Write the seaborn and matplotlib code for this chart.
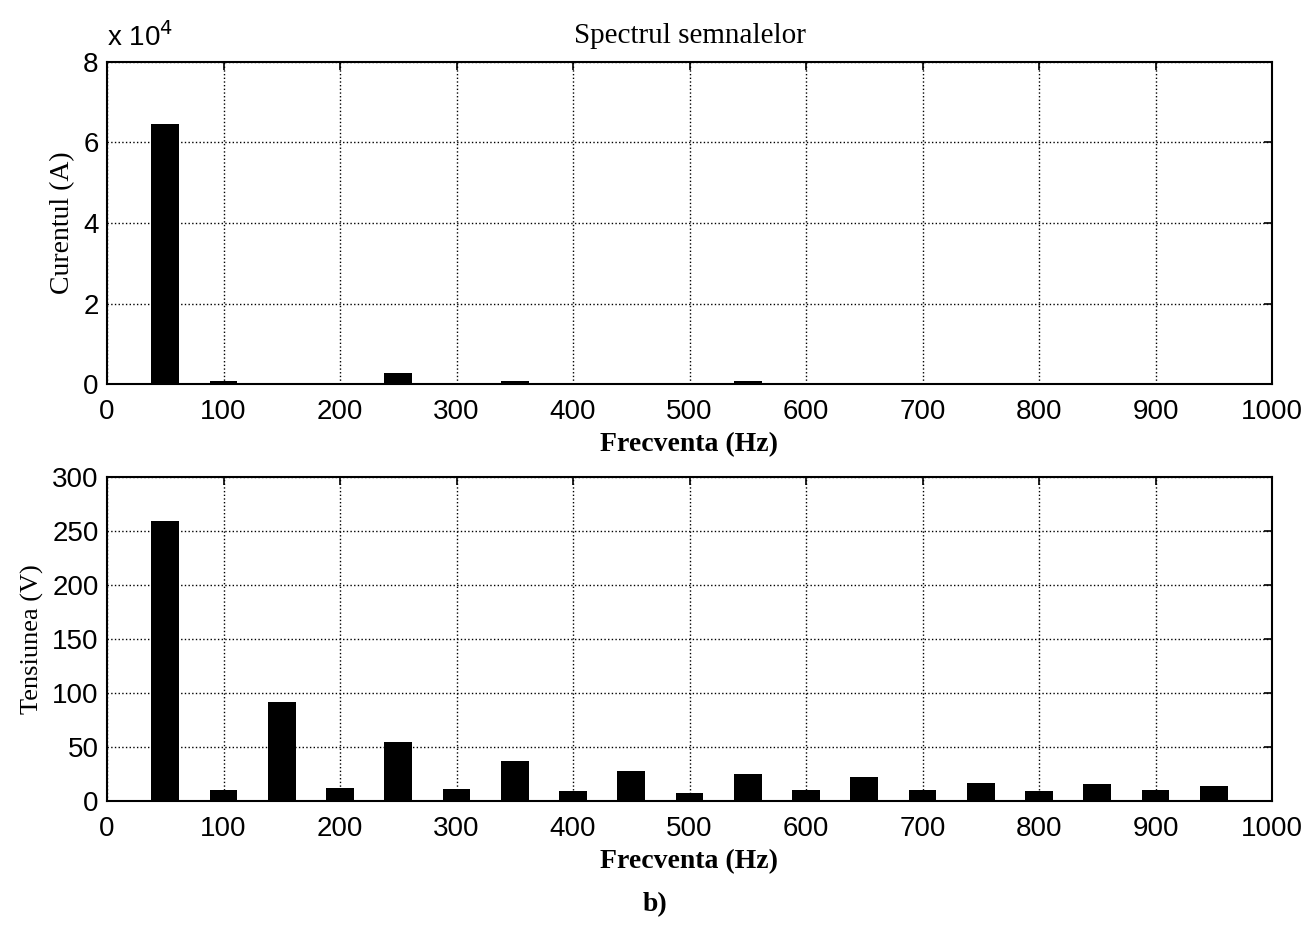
import matplotlib
matplotlib.use("Agg")
import matplotlib.pyplot as plt
import matplotlib.ticker as mticker
import seaborn as sns
import numpy as np
import pandas as pd

# ---- data ----
freq_hz = [50, 100, 150, 200, 250, 300, 350, 400, 450, 500,
           550, 600, 650, 700, 750, 800, 850, 900, 950]
current_a = [64700, 650, 300, 150, 2700, 0, 850, 50, 250, 0,
             750, 50, 350, 0, 0, 0, 300, 0, 100]
voltage_v = [259, 10, 92, 12, 55, 11, 37, 9, 28, 7,
             25, 10, 22, 10.5, 17, 9, 16, 10, 14]

xticks = [0, 100, 200, 300, 400, 500, 600, 700, 800, 900, 1000]
top_yticks = [0, 20000, 40000, 60000, 80000]
bot_yticks = [0, 50, 100, 150, 200, 250, 300]

sns.set_theme(style="white")
plt.rcParams['font.family'] = ['Liberation Sans', 'DejaVu Sans']

fig = plt.figure(figsize=(13.11, 9.33), dpi=100)
ax1 = fig.add_axes([107/1311, 1-384/933, 1165/1311, 322/933])
ax2 = fig.add_axes([107/1311, 1-801/933, 1165/1311, 324/933])

df_top = pd.DataFrame({"f": freq_hz, "v": current_a})
df_bot = pd.DataFrame({"f": freq_hz, "v": voltage_v})

serif = ['Liberation Serif', 'DejaVu Serif']

for ax, df, yt, ylim, ylab, ylsize in [
        (ax1, df_top, top_yticks, (0, 80000), "Curentul (A)", 20),
        (ax2, df_bot, bot_yticks, (0, 300), "Tensiunea (V)", 19)]:
    sns.barplot(data=df, x="f", y="v", native_scale=True, width=0.48,
                color="black", saturation=1, linewidth=0, errorbar=None, ax=ax)
    ax.set_xlim(0, 1000)
    ax.set_ylim(*ylim)
    ax.set_xticks(xticks)
    ax.set_yticks(yt)
    ax.grid(True, color="black", linestyle=":", linewidth=1.0)
    ax.set_axisbelow(True)
    for s in ax.spines.values():
        s.set_visible(True)
        s.set_color("black")
        s.set_linewidth(1.5)
    ax.tick_params(direction="in", length=6, width=1.2, top=True, right=True,
                   labelsize=20, colors="black", pad=6)
    ax.tick_params(axis="x", pad=11)
    ax.set_xlabel("Frecventa (Hz)", family=serif, fontweight="bold",
                  fontsize=20, color="black", labelpad=5)
    ax.set_ylabel(ylab, family=serif, fontsize=ylsize, color="black", labelpad=6)

ax1.yaxis.set_major_formatter(mticker.FuncFormatter(lambda v, p: f"{v/1e4:g}"))
ax1.text(0.0, 1.03, r"x 10$^{4}$", transform=ax1.transAxes, fontsize=20,
         ha="left", va="bottom", color="black")
ax1.set_title("Spectrul semnalelor", family=serif, fontsize=21, color="black", pad=14)

fig.text(0.5, 1-905/933, "b)", family=serif, fontweight="bold", fontsize=20,
         ha="center", va="center", color="black")

fig.savefig("out.png", dpi=100, facecolor="white")
